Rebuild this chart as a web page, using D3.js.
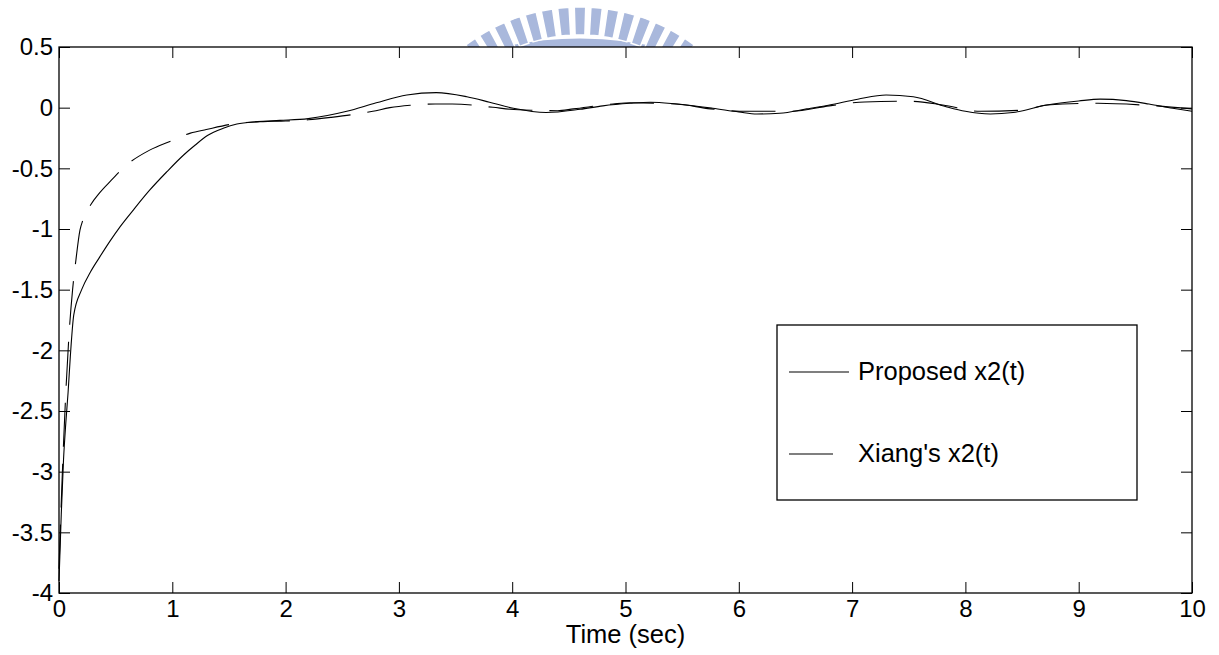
<!DOCTYPE html>
<html>
<head>
<meta charset="utf-8">
<script src="https://cdn.jsdelivr.net/npm/d3@7"></script>
<style>
  body { margin: 0; background: #fff; }
  svg { display: block; font-family: "Liberation Sans", Arial, sans-serif; }
</style>
</head>
<body>
<svg width="1219" height="655"></svg>
<script>
// proposed x2(t), solid line
var propT = [0, 0.02, 0.04, 0.06, 0.08, 0.1, 0.13, 0.2, 0.28, 0.36, 0.45, 0.54, 0.65, 0.8, 0.95,
  1.1, 1.2, 1.31, 1.45, 1.57, 1.75, 1.95, 2.2, 2.54, 2.8, 3.07, 3.33, 3.6, 3.8, 4.01, 4.3, 4.6,
  4.8, 5.04, 5.22, 5.45, 5.77, 6.0, 6.16, 6.36, 6.6, 6.8, 7.05, 7.3, 7.54, 7.83, 8.0, 8.22, 8.42,
  8.72, 9.0, 9.19, 9.42, 9.62, 9.83, 10];
var propV = [-3.9, -3.35, -2.9, -2.6, -2.35, -2.05, -1.71, -1.5, -1.35, -1.23, -1.1, -0.98, -0.85,
  -0.68, -0.53, -0.39, -0.31, -0.23, -0.17, -0.135, -0.115, -0.105, -0.09, -0.03, 0.04, 0.105, 0.124,
  0.09, 0.045, -0.005, -0.04, -0.013, 0.015, 0.036, 0.045, 0.03, -0.005, -0.035, -0.052, -0.046,
  -0.01, 0.022, 0.07, 0.105, 0.09, 0.008, -0.03, -0.052, -0.04, 0.022, 0.055, 0.07, 0.058, 0.03,
  -0.005, -0.03];

// Xiang's x2(t), dashed line
var xiangT = [0, 0.03, 0.06, 0.09, 0.12, 0.15, 0.185, 0.21, 0.28, 0.36, 0.46, 0.6, 0.8, 1.0, 1.16,
  1.3, 1.57, 1.8, 2.0, 2.2, 2.4, 2.77, 2.92, 3.1, 3.32, 3.47, 3.83, 3.98, 4.2, 4.4, 4.54, 4.89,
  5.04, 5.45, 5.75, 6.07, 6.45, 6.8, 7.11, 7.51, 7.8, 8.13, 8.51, 8.72, 9.17, 9.56, 10];
var xiangV = [-3.8, -3.0, -2.35, -1.85, -1.5, -1.25, -1.01, -0.93, -0.8, -0.7, -0.6, -0.47, -0.35,
  -0.27, -0.21, -0.18, -0.13, -0.115, -0.11, -0.1, -0.08, -0.03, 0.0, 0.02, 0.03, 0.03, 0.003,
  -0.013, -0.022, -0.025, -0.01, 0.03, 0.04, 0.03, -0.01, -0.03, -0.03, 0.015, 0.047, 0.053,
  0.022, -0.03, -0.02, 0.022, 0.036, 0.022, -0.01];

var xTicks = [0, 1, 2, 3, 4, 5, 6, 7, 8, 9, 10];
var yTicks = [-4, -3.5, -3, -2.5, -2, -1.5, -1, -0.5, 0, 0.5];
var legendLabels = ["Proposed x2(t)", "Xiang's x2(t)"];

var svg = d3.select("svg"),
    margin = {top: 47, right: 27, bottom: 62, left: 59},
    width = +svg.attr("width") - margin.left - margin.right,
    height = +svg.attr("height") - margin.top - margin.bottom;

// faint logo peeking out above the axes
svg.append("path")
    .attr("fill", "#a9b8dc")
    .attr("d", "M490,50 Q580,27 670,50 Z");
var logo = svg.append("g").attr("transform", "translate(580,198)");
var arcGen = d3.arc();
d3.range(-7, 8).forEach(function(i) {
  var a = i * 5 * Math.PI / 180;
  logo.append("path")
      .attr("fill", "#a9b8dc")
      .attr("stroke", "#fff")
      .attr("stroke-width", 1.5)
      .attr("d", arcGen({innerRadius: 163, outerRadius: 191,
        startAngle: a - 0.03, endAngle: a + 0.03}));
});

var g = svg.append("g").attr("transform", "translate(" + margin.left + "," + margin.top + ")");

g.append("rect").attr("width", width).attr("height", height).attr("fill", "#fff");

var x = d3.scaleLinear().domain([0, 10]).range([0, width]);
var y = d3.scaleLinear().domain([-4, 0.5]).range([height, 0]);

var fmt = function(d) { return String(d); };

g.append("g")
    .attr("transform", "translate(0," + height + ")")
    .call(d3.axisBottom(x).tickValues(xTicks).tickFormat(fmt).tickSizeInner(-11).tickSizeOuter(0).tickPadding(7));
g.append("g")
    .call(d3.axisLeft(y).tickValues(yTicks).tickFormat(fmt).tickSizeInner(-11).tickSizeOuter(0).tickPadding(6));
g.append("g")
    .call(d3.axisTop(x).tickValues(xTicks).tickFormat("").tickSizeInner(-11).tickSizeOuter(0));
g.append("g")
    .attr("transform", "translate(" + width + ",0)")
    .call(d3.axisRight(y).tickValues(yTicks).tickFormat("").tickSizeInner(-11).tickSizeOuter(0));

g.selectAll(".domain").remove();
g.selectAll(".tick line").attr("stroke", "#000");
g.selectAll(".tick text").attr("fill", "#000").attr("font-size", 24)
    .attr("font-family", "Liberation Sans, Arial, sans-serif");

g.append("rect")
    .attr("width", width)
    .attr("height", height)
    .attr("fill", "none")
    .attr("stroke", "#000")
    .attr("stroke-width", 1.3);

var line = d3.line()
    .x(function(d) { return x(d[0]); })
    .y(function(d) { return y(d[1]); })
    .curve(d3.curveMonotoneX);

g.append("path")
    .datum(d3.zip(propT, propV))
    .attr("fill", "none")
    .attr("stroke", "#000")
    .attr("stroke-width", 1.1)
    .attr("d", line);

g.append("path")
    .datum(d3.zip(xiangT, xiangV))
    .attr("fill", "none")
    .attr("stroke", "#000")
    .attr("stroke-width", 1.1)
    .attr("stroke-dasharray", "44,17")
    .attr("d", line);

svg.append("text")
    .attr("x", margin.left + width / 2)
    .attr("y", 643)
    .attr("text-anchor", "middle")
    .attr("font-size", 25.5)
    .text("Time (sec)");

// legend
var legend = svg.append("g").attr("transform", "translate(777,325)");
legend.append("rect")
    .attr("width", 360)
    .attr("height", 175)
    .attr("fill", "#fff")
    .attr("stroke", "#000")
    .attr("stroke-width", 1.3);

var item = legend.selectAll(".item")
    .data(legendLabels)
    .enter().append("g")
      .attr("transform", function(d, i) { return "translate(0," + (47 + i * 82) + ")"; });

item.append("line")
    .attr("x1", 12)
    .attr("x2", function(d, i) { return i ? 56 : 72; })
    .attr("stroke", "#000")
    .attr("stroke-width", 1.1)
    .attr("stroke-dasharray", function(d, i) { return i ? "44,17" : null; });

item.append("text")
    .attr("x", 81)
    .attr("y", 8)
    .attr("font-size", 25.5)
    .text(function(d) { return d; });
</script>
</body>
</html>
